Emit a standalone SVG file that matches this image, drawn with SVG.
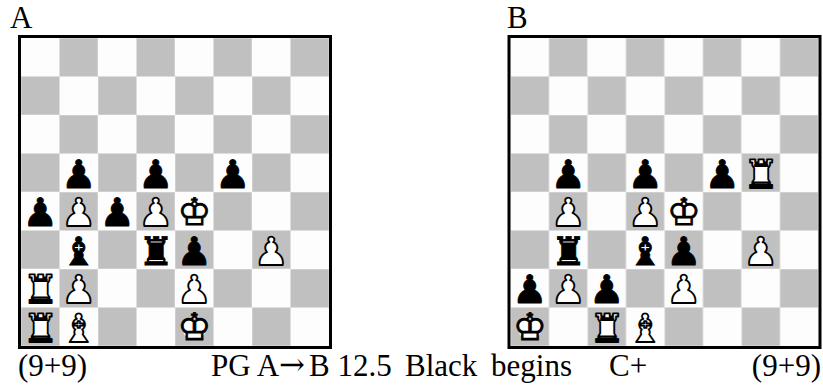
<svg xmlns="http://www.w3.org/2000/svg" width="823" height="387" viewBox="0 0 823 387">
<defs>
<style>
.lbl{font-family:"Liberation Serif","Times New Roman",serif;font-size:31px;fill:#000}
.arr{font-family:"DejaVu Serif",serif;font-size:31px;fill:#000}
.b,.w{font-family:"DejaVu Sans",sans-serif;font-size:39px;text-anchor:middle}
.b{fill:#000;stroke:#000;stroke-width:0.9}
.w{fill:#fff;stroke:#000;stroke-width:1.8;stroke-linejoin:round}
.k{font-size:37.5px}
.kb{fill:#fff}
.frame{fill:none;stroke:#000;stroke-width:3}
</style>
<pattern id="chk" patternUnits="userSpaceOnUse" x="0" y="0" width="77" height="77">
<rect x="0" y="0" width="77" height="77" fill="#fdfdfd"/>
<rect x="38.5" y="0" width="38.5" height="38.5" fill="#c0c0c0" stroke="#dedede" stroke-width="1"/>
<rect x="0" y="38.5" width="38.5" height="38.5" fill="#c0c0c0" stroke="#dedede" stroke-width="1"/>
</pattern>
</defs>
<rect width="823" height="387" fill="#fff"/>

<g id="boardA" transform="translate(21,38)">
<rect x="0" y="0" width="308" height="308" fill="url(#chk)"/>
<rect class="frame" x="-1.5" y="-1.5" width="311" height="311"/>
<g id="piecesA">
<text class="b" x="57.75" y="149.5">♟</text>
<text class="b" x="134.75" y="149.5">♟</text>
<text class="b" x="211.75" y="149.5">♟</text>
<text class="b" x="19.25" y="188">♟</text>
<text class="w" x="57.75" y="188">♟</text>
<text class="b" x="96.25" y="188">♟</text>
<text class="w" x="134.75" y="188">♟</text>
<text class="b k" x="173.25" y="186.5">♔</text>
<text class="b" x="57.75" y="226.5">♝</text>
<text class="b" x="134.75" y="226.5">♜</text>
<text class="b" x="173.25" y="226.5">♟</text>
<text class="w" x="250.25" y="226.5">♟</text>
<text class="w" x="19.25" y="265">♜</text>
<text class="w" x="57.75" y="265">♟</text>
<text class="w" x="173.25" y="265">♟</text>
<text class="w" x="19.25" y="303.5">♜</text>
<text class="w" x="57.75" y="303.5">♝</text>
<rect class="kb" x="162.5" y="282" width="21.5" height="17" rx="5"/>
<text class="b k" x="173.25" y="302">♔</text>
</g>
</g>

<g id="boardB" transform="translate(510.5,38)">
<rect x="0" y="0" width="308" height="308" fill="url(#chk)"/>
<rect class="frame" x="-1.5" y="-1.5" width="311" height="311"/>
<g id="piecesB">
<text class="b" x="57.75" y="149.5">♟</text>
<text class="b" x="134.75" y="149.5">♟</text>
<text class="b" x="211.75" y="149.5">♟</text>
<text class="w" x="250.25" y="149.5">♜</text>
<text class="w" x="57.75" y="188">♟</text>
<text class="w" x="134.75" y="188">♟</text>
<text class="b k" x="173.25" y="186.5">♔</text>
<text class="b" x="57.75" y="226.5">♜</text>
<text class="b" x="134.75" y="226.5">♝</text>
<text class="b" x="173.25" y="226.5">♟</text>
<text class="w" x="250.25" y="226.5">♟</text>
<text class="b" x="19.25" y="265">♟</text>
<text class="w" x="57.75" y="265">♟</text>
<text class="b" x="96.25" y="265">♟</text>
<text class="w" x="173.25" y="265">♟</text>
<rect class="kb" x="8.5" y="282" width="21.5" height="17" rx="5"/>
<text class="b k" x="19.25" y="302">♔</text>
<text class="w" x="96.25" y="303.5">♜</text>
<text class="w" x="134.75" y="303.5">♝</text>
</g>
</g>

<g id="labels">
<text class="lbl" x="10" y="28">A</text>
<text class="lbl" x="507" y="28">B</text>
<text class="lbl" x="18" y="376">(9+9)</text>
<text class="lbl" x="211" y="376">PG A</text>
<text class="arr" x="279" y="375">→</text>
<text class="lbl" x="309" y="376">B 12.5</text>
<text class="lbl" x="405" y="376" word-spacing="6">Black begins</text>
<text class="lbl" x="609" y="376">C+</text>
<text class="lbl" x="821" y="376" text-anchor="end">(9+9)</text>
</g>
</svg>
